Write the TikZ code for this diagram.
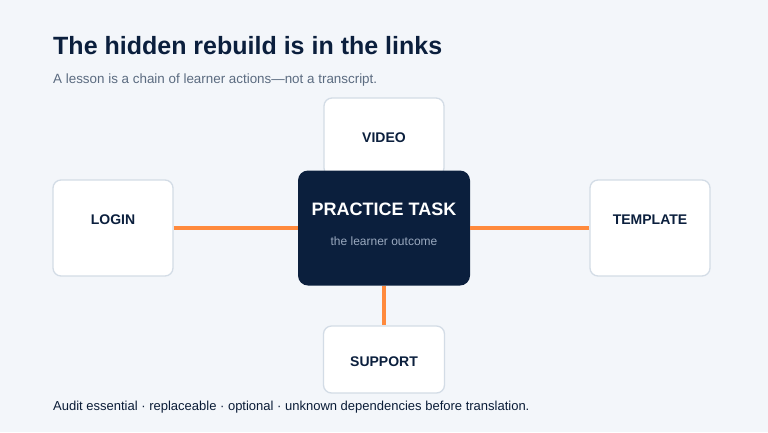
\documentclass[tikz,border=0pt]{standalone}
\usepackage{fontspec}
\setmainfont{Liberation Sans}
\usepackage{tikz}
\usetikzlibrary{calc, positioning}
\definecolor{bgpage}{HTML}{F3F6FA}
\definecolor{navy}{HTML}{0B1F3D}
\definecolor{linkorange}{HTML}{FF8A3D}
\definecolor{cardline}{HTML}{D3DCE6}
\definecolor{subgray}{HTML}{5B6B80}
\definecolor{tasksub}{HTML}{9AA9BF}
\tikzset{
  card/.style={draw=cardline, line width=1.3pt, fill=white, rounded corners=8pt, inner sep=0pt},
  cardlabel/.style={text=navy, font=\fontsize{14}{16}\selectfont\bfseries},
  link/.style={draw=linkorange, line width=4pt},
}

\begin{document}
\begin{tikzpicture}[x=1pt, y=-1pt]
  % Fond
  \fill[bgpage] (0,0) rectangle (768,432);
  \useasboundingbox (0,0) rectangle (768,432);
  % Titre et sous-titre
  \node[anchor=base west, inner sep=0pt, text=navy, font=\fontsize{25}{28}\selectfont\bfseries] (title) at (53,54) {The hidden rebuild is in the links};
  \node[anchor=base west, inner sep=0pt, text=subgray, font=\fontsize{13.4}{15}\selectfont] (subtitle) at (53,83) {A lesson is a chain of learner actions—not a transcript.};
  % Cartes autour de la tâche
  \node[card, minimum width=120pt, minimum height=78pt] (video) at (384,137) {};
  \node[cardlabel] at ([yshift=-40pt]video.north) {VIDEO};
  \node[card, minimum width=120pt, minimum height=96pt] (login) at (113,228) {};
  \node[cardlabel] at ([yshift=-40pt]login.north) {LOGIN};
  \node[card, minimum width=120pt, minimum height=96pt] (template) at (650,228) {};
  \node[cardlabel] at ([yshift=-40pt]template.north) {TEMPLATE};
  \node[card, minimum width=121pt, minimum height=67pt] (support) at (384,359.5) {};
  \node[cardlabel] at ([yshift=-36pt]support.north) {SUPPORT};
  % Tâche centrale
  \node[fill=navy, rounded corners=10pt, minimum width=172pt, minimum height=115pt, inner sep=0pt] (task) at (384,228) {};
  \node[text=white, font=\fontsize{18}{20}\selectfont\bfseries] (tasktitle) at (384,209) {PRACTICE TASK};
  \node[text=tasksub, font=\fontsize{12}{14}\selectfont] (tasksubtitle) at (384,241) {the learner outcome};
  % Liens
  \draw[link] (login.east) -- (task.west);
  \draw[link] (task.east) -- (template.west);
  \draw[link] (task.south) -- (support.north);
  % Pied de page
  \node[anchor=base west, inner sep=0pt, text=navy!90!black, font=\fontsize{13}{15}\selectfont] (footer) at (53,410) {Audit essential · replaceable · optional · unknown dependencies before translation.};
\end{tikzpicture}
\end{document}
